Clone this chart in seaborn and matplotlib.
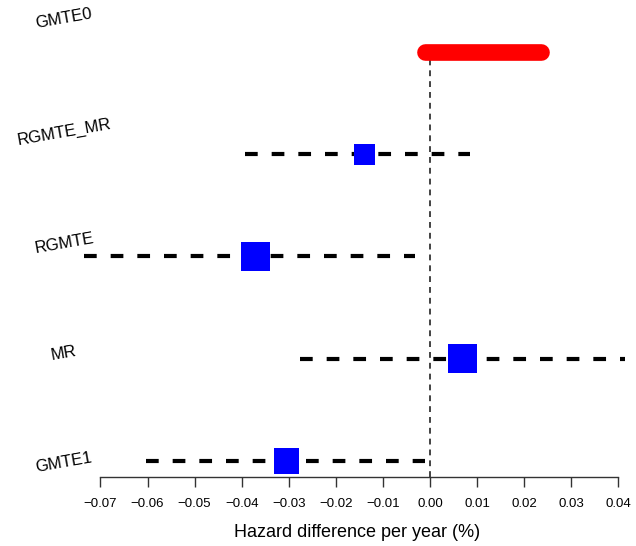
import matplotlib
matplotlib.use("Agg")
import matplotlib.pyplot as plt
import seaborn as sns
import numpy as np


# данные
methods = ['GMTE0', 'RGMTE_MR', 'RGMTE', 'MR', 'GMTE1']
estimate = [np.nan, -0.0139, -0.0370, 0.0069, -0.0305]
ci_low = [-0.0011, -0.0392, -0.0735, -0.0277, -0.0603]
ci_high = [0.0235, 0.0086, -0.0032, 0.0414, -0.0010]
weight = [0.0, 0.72, 1.0, 1.0, 0.87]
x_ticks = [-0.07, -0.06, -0.05, -0.04, -0.03, -0.02, -0.01, 0.00, 0.01, 0.02, 0.03, 0.04]


def create_plot():
    sns.set_theme(style='white')
    plt.rcParams['font.family'] = ['Liberation Sans', 'DejaVu Sans']
    plt.rcParams['text.color'] = 'black'
    plt.rcParams['axes.labelcolor'] = 'black'
    plt.rcParams['xtick.color'] = 'black'

    fig = plt.figure(figsize=(6.36, 5.46), dpi=100)
    ax = fig.add_axes([84 / 636, 69 / 546, 546 / 636, 447 / 546])

    ypos = np.arange(len(methods), 0, -1)

    # нулевая линия
    ax.plot([0, 0], [0.843, ypos[0]], color='#222222', lw=1.2,
            linestyle=(0, (3.5, 3)), zorder=1)

    # GMTE0 — красная полоса
    ax.plot([ci_low[0], ci_high[0]], [ypos[0], ypos[0]], color='red',
            lw=12, solid_capstyle='round', zorder=2)

    # доверительные интервалы
    for i in range(1, len(methods)):
        ax.plot([ci_low[i], ci_high[i]], [ypos[i], ypos[i]], color='black',
                lw=3, linestyle=(0, (3.05, 3.35)), zorder=2)

    sizes = (np.array(weight[1:]) * 21.0) ** 2
    sns.scatterplot(x=estimate[1:], y=ypos[1:], s=sizes, marker='s',
                    color='blue', linewidth=0, ax=ax, zorder=3)

    ax.set_xlim(-0.0735, 0.0425)
    ax.set_ylim(0.843, 5.215)

    for side in ['top', 'right', 'left']:
        ax.spines[side].set_visible(False)
    ax.spines['bottom'].set_bounds(x_ticks[0], x_ticks[-1])
    ax.spines['bottom'].set_color('#333333')
    ax.spines['bottom'].set_linewidth(1.0)

    ax.set_xticks(x_ticks)
    ax.set_xticklabels([f'{t:.2f}'.replace('-', '\u2212') for t in x_ticks], fontsize=9.5)
    ax.tick_params(axis='x', bottom=True, length=7, width=1.0, color='#333333', pad=8)
    ax.set_yticks([])
    ax.set_xlabel('Hazard difference per year (%)', fontsize=13, labelpad=10)

    # подписи методов слева, под наклоном
    label_y = [19, 132, 243, 353, 463]
    for name, yy in zip(methods, label_y):
        fig.text(64 / 636, 1 - yy / 546, name, rotation=10, fontsize=12,
                 ha='center', va='center')

    fig.savefig('out.png', dpi=100)


def main():
    create_plot()


if __name__ == "__main__":
    main()
